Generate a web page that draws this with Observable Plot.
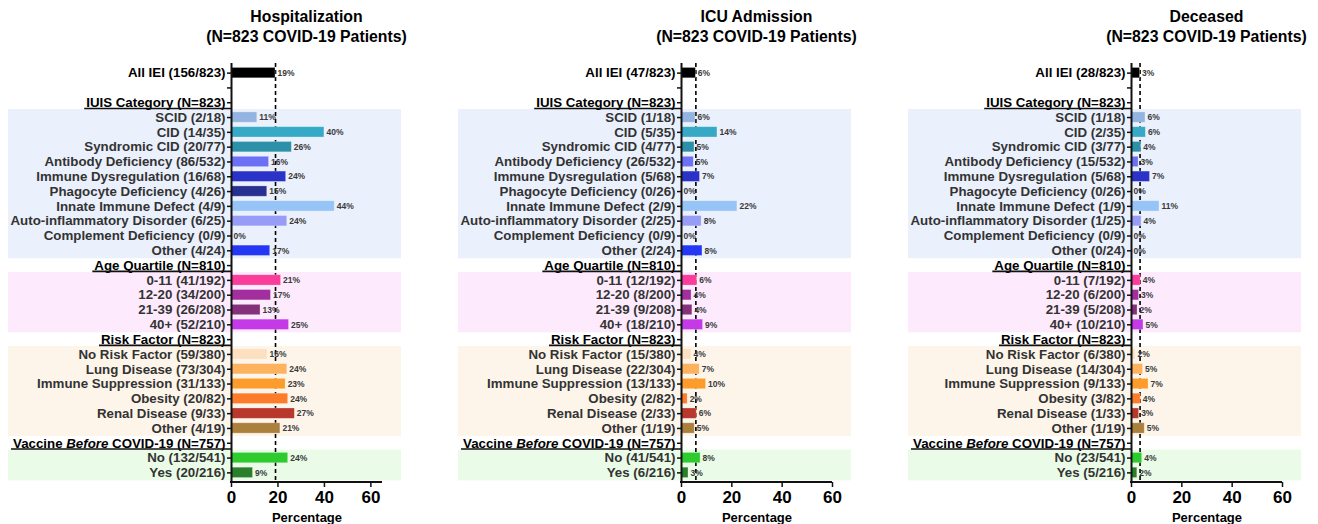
<!DOCTYPE html>
<html>
<head>
<meta charset="utf-8">
<script src="https://cdn.jsdelivr.net/npm/d3@7"></script>
<script src="https://cdn.jsdelivr.net/npm/@observablehq/plot@0.6"></script>
<style>
  html, body { margin: 0; padding: 0; background: #fff; }
  #root { position: relative; width: 1318px; height: 524px; overflow: hidden; font-family: "Liberation Sans", Arial, sans-serif; }
  .panel { position: absolute; top: 0; }
  .title { position: absolute; top: 7px; text-align: center; font-weight: bold; font-size: 15.8px; line-height: 20px; color: #000; white-space: nowrap; transform: translateX(-50%); }
  .panel svg { position: absolute; top: 50px; left: 0; overflow: visible; }
</style>
</head>
<body>
<div id="root"></div>
<script>
// ---------------- DATA ----------------
const allLabel = "All IEI";
const iuisCategories = ["SCID", "CID", "Syndromic CID", "Antibody Deficiency", "Immune Dysregulation",
  "Phagocyte Deficiency", "Innate Immune Defect", "Auto-inflammatory Disorder", "Complement Deficiency", "Other"];
const ageQuartiles = ["0-11", "12-20", "21-39", "40+"];
const riskFactors = ["No Risk Factor", "Lung Disease", "Immune Suppression", "Obesity", "Renal Disease", "Other"];
const vaccineStatus = ["No", "Yes"];
const groupHeaders = ["IUIS Category (N=823)", "Age Quartile (N=810)", "Risk Factor (N=823)", "Vaccine Before COVID-19 (N=757)"];

// denominators, in item order: All IEI, IUIS (10), Age (4), Risk (6), Vaccine (2)
const denominators = [823, 18, 35, 77, 532, 68, 26, 9, 25, 9, 24, 192, 200, 208, 210, 380, 304, 133, 82, 33, 19, 541, 216];
const hospitalized = [156, 2, 14, 20, 86, 16, 4, 4, 6, 0, 4, 41, 34, 26, 52, 59, 73, 31, 20, 9, 4, 132, 20];
const icuAdmitted  = [47, 1, 5, 4, 26, 5, 0, 2, 2, 0, 2, 12, 8, 9, 18, 15, 22, 13, 2, 2, 1, 41, 6];
const deceased     = [28, 1, 2, 3, 15, 5, 0, 1, 1, 0, 0, 7, 6, 5, 10, 6, 14, 9, 3, 1, 1, 23, 5];

const panelTitles = ["Hospitalization", "ICU Admission", "Deceased"];
const panelSubtitle = "(N=823 COVID-19 Patients)";
const xTicks = [0, 20, 40, 60];
const xMax = [65, 60, 60];

// palette (styles)
const barColors = ["#000000",
  "#93b4e0", "#36a9c6", "#2c90a8", "#6b70f5", "#2a32c8", "#283092", "#96c4f7", "#979cf7", "#8a8af0", "#2437f5",
  "#fa3c9a", "#a32e9d", "#85307b", "#c43ae6",
  "#fde0bf", "#fcb25f", "#fd9c2a", "#fd7c2a", "#b8382c", "#ab7f3c",
  "#2dcb2d", "#2a7f2c"];
const groupBackgrounds = ["#eaf0fc", "#fdebfd", "#fdf5ea", "#eafbe7"];

// ---------------- BUILD ROWS ----------------
const groups = [iuisCategories, ageQuartiles, riskFactors, vaccineStatus];
function buildRows(counts) {
  const rows = [];
  let item = 0;
  const pushItem = (name, group) => {
    const n = counts[item], d = denominators[item];
    rows.push({key: String(rows.length), kind: "item", group, label: `${name} (${n}/${d})`,
      pct: n / d * 100, text: Math.round(n / d * 100) + "%", color: barColors[item]});
    item++;
  };
  pushItem(allLabel, -1);
  rows.push({key: String(rows.length), kind: "blank", group: -1, label: ""});
  groups.forEach((g, gi) => {
    rows.push({key: String(rows.length), kind: "header", group: -1, label: groupHeaders[gi]});
    g.forEach(name => pushItem(name, gi));
  });
  return rows;
}

const root = document.getElementById("root");
const panelLefts = [0, 450, 900];
const panelWidths = [450, 450, 418];
const ML = 231, PW = 151, MT = 13, MB = 42, H = 474;

[hospitalized, icuAdmitted, deceased].forEach((counts, pi) => {
  const rows = buildRows(counts);
  const items = rows.filter(r => r.kind === "item");
  const overall = counts[0] / denominators[0] * 100;
  const W = panelWidths[pi];
  const k = PW / xMax[pi]; // px per unit
  const bgLeft = (8 - ML) / k, bgRight = (401 - ML) / k;
  const bgRows = rows.filter(r => r.group >= 0).map(r => ({...r, bg: groupBackgrounds[r.group]}));
  const labelOf = new Map(rows.map(r => [r.key, r.label]));
  const step = (H - MT - MB) / (rows.length + 0.3);
  const gap = step * 0.3 / 2 + 0.6;

  const chart = Plot.plot({
    width: W, height: H,
    marginLeft: ML, marginRight: W - ML - PW, marginTop: MT, marginBottom: MB,
    style: {fontFamily: "Liberation Sans, Arial, sans-serif", background: "transparent", overflow: "visible"},
    x: {domain: [0, xMax[pi]], axis: null},
    y: {domain: rows.map(r => r.key), padding: 0.3, round: false, axis: null},
    color: {type: "identity"},
    marks: [
      Plot.barX(bgRows, {x1: () => bgLeft, x2: () => bgRight, y: "key", fill: "bg", insetTop: -gap, insetBottom: -gap}),
      Plot.ruleX([overall], {stroke: "#000", strokeWidth: 1.6, strokeDasharray: "4,3"}),
      Plot.barX(items, {x: "pct", y: "key", fill: "color", stroke: "white", strokeOpacity: 0.35, strokeWidth: 0.8}),
      Plot.text(items, {x: "pct", y: "key", text: "text", textAnchor: "start", dx: 2, fontSize: 8.5, fontWeight: "bold", fill: "#3a3a3a"}),
      Plot.ruleX([0], {stroke: "#111", strokeWidth: 2}),
      Plot.axisY({tickSize: 4, tickPadding: 2, fontSize: 13.3, fontWeight: "bold", tickFormat: d => labelOf.get(d), stroke: "#111", strokeWidth: 1.5, label: null}),
      Plot.axisX({ticks: xTicks, tickSize: 5, tickPadding: 3, fontSize: 17, fontWeight: "bold", stroke: "#111", strokeWidth: 1.5, label: null, tickFormat: d => String(d)}),
      Plot.text(["Percentage"], {frameAnchor: "bottom", dy: 39, fontSize: 13, fontWeight: "bold", fill: "#000"})
    ]
  });

  const div = document.createElement("div");
  div.className = "panel";
  div.style.left = panelLefts[pi] + "px";
  div.style.width = W + "px";
  div.style.height = "524px";
  const t = document.createElement("div");
  t.className = "title";
  t.style.left = (ML + PW / 2) + "px";
  t.innerHTML = panelTitles[pi] + "<br>" + panelSubtitle;
  div.appendChild(t);
  div.appendChild(chart);
  root.appendChild(div);

  // axis line along bottom, from the x scale
  const xs = chart.scale("x");
  const sel = d3.select(chart);
  sel.append("line")
    .attr("x1", xs.range[0] - 1).attr("x2", xs.range[1])
    .attr("y1", H - MB).attr("y2", H - MB)
    .attr("stroke", "#111").attr("stroke-width", 2);

  // style y tick labels
  const headerSet = new Set(groupHeaders);
  const tickTexts = chart.querySelectorAll('g[aria-label="y-axis tick label"] text');
  tickTexts.forEach(node => {
    const s = node.textContent;
    if (headerSet.has(s) || s.startsWith(allLabel)) node.setAttribute("fill", "#000");
    else node.setAttribute("fill", "#333");
    if (s === "Vaccine Before COVID-19 (N=757)") {
      node.textContent = "";
      const ns = "http://www.w3.org/2000/svg";
      const parts = [["Vaccine ", false], ["Before", true], [" COVID-19 (N=757)", false]];
      parts.forEach(([txt, it]) => {
        const sp = document.createElementNS(ns, "tspan");
        sp.textContent = txt;
        if (it) sp.setAttribute("font-style", "italic");
        node.appendChild(sp);
      });
    }
    if (headerSet.has(s)) {
      const bb = node.getBBox();
      const m = chart.getScreenCTM().inverse().multiply(node.getScreenCTM());
      const p1 = new DOMPoint(bb.x, bb.y + bb.height).matrixTransform(m);
      sel.append("line")
        .attr("x1", p1.x - 2).attr("x2", ML)
        .attr("y1", p1.y - 1.5).attr("y2", p1.y - 1.5)
        .attr("stroke", "#111").attr("stroke-width", 1.6);
    }
  });
});
</script>
</body>
</html>
